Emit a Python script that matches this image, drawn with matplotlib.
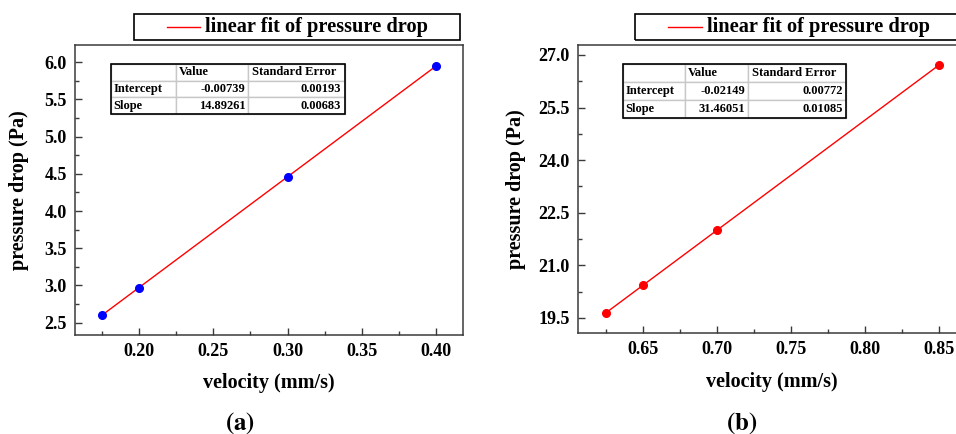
import numpy as np
import matplotlib
matplotlib.use('Agg')
import matplotlib.pyplot as plt
from matplotlib.patches import Rectangle
from matplotlib.lines import Line2D
from matplotlib.ticker import MultipleLocator

# ── DADOS ─────────────────────────────────────────────────────────────────────
vel_a = [0.175, 0.20, 0.30, 0.40]
dp_a = [2.60, 2.97, 4.46, 5.95]
intercept_a, slope_a = -0.00739, 14.89261
tabela_a = [['', 'Value', 'Standard Error'],
            ['Intercept', '-0.00739', '0.00193'],
            ['Slope', '14.89261', '0.00683']]

vel_b = [0.625, 0.65, 0.70, 0.85]
dp_b = [19.64, 20.43, 22.00, 26.72]
intercept_b, slope_b = -0.02149, 31.46051
tabela_b = [['', 'Value', 'Standard Error'],
            ['Intercept', '-0.02149', '0.00772'],
            ['Slope', '31.46051', '0.01085']]

legenda = 'linear fit of pressure drop'

# ── ESTILO ────────────────────────────────────────────────────────────────────
plt.rcParams['font.family'] = ['Liberation Serif', 'DejaVu Serif']
plt.rcParams['font.weight'] = 'bold'
plt.rcParams['mathtext.fontset'] = 'stix'

W, H = 956, 434
fig = plt.figure(figsize=(W / 100, H / 100), dpi=100)


def px_axes(left, top, right, bottom):
    return fig.add_axes([left / W, 1 - bottom / H, (right - left) / W, (bottom - top) / H])


def estilo(ax, xmaj, xmin, ymaj, ymin):
    for s in ax.spines.values():
        s.set_color('#3a3a3a')
        s.set_linewidth(1.1)
    ax.xaxis.set_major_locator(MultipleLocator(xmaj))
    ax.xaxis.set_minor_locator(MultipleLocator(xmin))
    ax.yaxis.set_major_locator(MultipleLocator(ymaj))
    ax.yaxis.set_minor_locator(MultipleLocator(ymin))
    ax.tick_params(which='both', direction='in', top=False, right=False,
                   color='#3a3a3a', width=1.0, labelsize=13, pad=6)
    ax.tick_params(which='major', length=5)
    ax.tick_params(which='minor', length=3)
    for lab in ax.get_xticklabels() + ax.get_yticklabels():
        lab.set_fontweight('bold')
    ax.set_xlabel('velocity (mm/s)', fontsize=14.5, fontweight='bold')
    ax.set_ylabel('pressure drop (Pa)', fontsize=14.5, fontweight='bold')


def tabela(ax, dados, bbox, larguras):
    t = ax.table(cellText=dados, bbox=bbox, colWidths=larguras, zorder=5)
    t.auto_set_font_size(False)
    for (r, c), cell in t.get_celld().items():
        cell.set_edgecolor('#c8c8c8')
        cell.set_linewidth(1.0)
        cell.set_facecolor('white')
        txt = cell.get_text()
        txt.set_fontsize(9)
        txt.set_fontweight('bold')
        if r == 0 or c == 0:
            cell._loc = 'left'
            txt.set_ha('left')
        else:
            cell._loc = 'right'
            txt.set_ha('right')
        cell.PAD = 0.04
    ax.add_patch(Rectangle((bbox[0], bbox[1]), bbox[2], bbox[3], transform=ax.transAxes,
                           fill=False, edgecolor='black', linewidth=1.2, zorder=6))


def caixa_legenda(left, top, right, bottom, x_linha, x_texto):
    fig.patches.append(Rectangle((left / W, 1 - bottom / H), (right - left) / W, (bottom - top) / H,
                                 transform=fig.transFigure, fill=False, edgecolor='black',
                                 linewidth=1.2))
    ym = 1 - (top + bottom) / 2 / H
    fig.lines.append(Line2D([x_linha[0] / W, x_linha[1] / W], [ym, ym], transform=fig.transFigure,
                            color='red', linewidth=1.0))
    fig.text(x_texto / W, ym, legenda, fontsize=14.7, fontweight='bold', va='center', ha='left')


# ── PAINEL (a) ────────────────────────────────────────────────────────────────
ax1 = px_axes(75, 45, 463, 335)
xa = np.array(vel_a)
ax1.plot(xa, intercept_a + slope_a * xa, color='red', linewidth=1.0, zorder=3)
ax1.plot(vel_a, dp_a, 'o', color='blue', markersize=5.5, zorder=4)
ax1.set_xlim(0.157, 0.418)
ax1.set_ylim(2.335, 6.23)
estilo(ax1, 0.05, 0.025, 0.5, 0.25)
ax1.yaxis.set_major_formatter(plt.FormatStrFormatter('%.1f'))
ax1.xaxis.set_major_formatter(plt.FormatStrFormatter('%.2f'))
ax1.yaxis.set_label_coords(-0.118, 0.5)
ax1.xaxis.set_label_coords(0.5, -0.131)
tabela(ax1, tabela_a, [0.093, 0.762, 0.603, 0.172], [0.278, 0.308, 0.414])
caixa_legenda(134, 14, 460, 40, (167, 200), 205)
fig.text(240 / W, 1 - 423 / H, r'$(\mathbf{a})$', fontsize=18, ha='center', va='center')

# ── PAINEL (b) ────────────────────────────────────────────────────────────────
ax2 = px_axes(578, 45, 966, 333)
xb = np.array(vel_b)
ax2.plot(xb, intercept_b + slope_b * xb, color='red', linewidth=1.0, zorder=3)
ax2.plot(vel_b, dp_b, 'o', color='red', markersize=5.5, zorder=4)
ax2.set_xlim(0.6063, 0.868)
ax2.set_ylim(19.07, 27.285)
estilo(ax2, 0.05, 0.025, 1.5, 0.75)
ax2.yaxis.set_major_formatter(plt.FormatStrFormatter('%.1f'))
ax2.xaxis.set_major_formatter(plt.FormatStrFormatter('%.2f'))
ax2.yaxis.set_label_coords(-0.134, 0.5)
ax2.xaxis.set_label_coords(0.5, -0.135)
tabela(ax2, tabela_b, [0.115, 0.7465, 0.577, 0.1875], [0.28, 0.28, 0.44])
caixa_legenda(635, 14, 961, 40, (668, 702), 707)
fig.text(742 / W, 1 - 423 / H, r'$(\mathbf{b})$', fontsize=18, ha='center', va='center')

plt.savefig('out.png', dpi=100)
